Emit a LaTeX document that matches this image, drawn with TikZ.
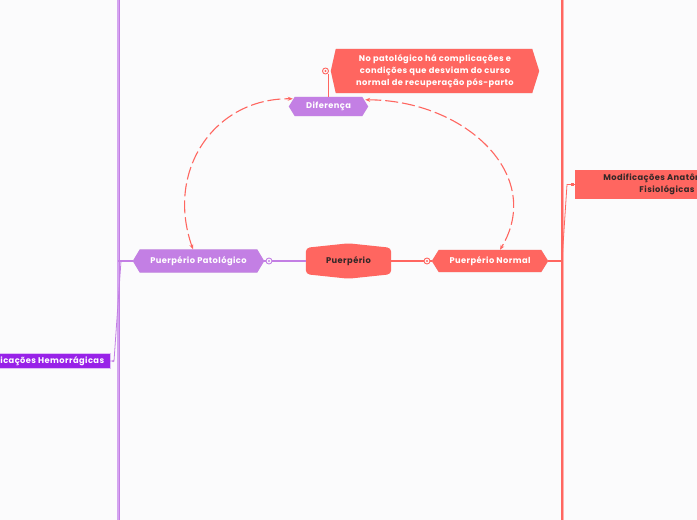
\documentclass[tikz,border=0pt]{standalone}
\usepackage{fontspec}
\setmainfont{Poppins}[LetterSpace=5]
\usetikzlibrary{arrows.meta}
\pgfdeclarelayer{bg}
\pgfdeclarelayer{back}
\pgfsetlayers{back,bg,main}
\definecolor{bgc}{RGB}{251,251,252}
\definecolor{redN}{RGB}{255,102,96}
\definecolor{purpN}{RGB}{195,127,228}
\definecolor{purpD}{RGB}{152,34,232}
\definecolor{purpL}{RGB}{212,165,240}
\definecolor{darkT}{RGB}{52,40,40}
\begin{document}
\begin{tikzpicture}[x=1pt,y=-1pt,
  lbl/.style={inner sep=0pt,font=\bfseries\fontsize{8.3}{12.2}\selectfont,align=center},
  wlbl/.style={lbl,text=white},
  dlbl/.style={lbl,text=darkT},
  ring/.style={circle,draw=#1,fill=bgc,line width=0.9pt,minimum size=6pt,inner sep=0pt},
  purline/.style={purpN,line width=1.4pt},
  redline/.style={redN,line width=1.4pt},
  trunkP/.style={purpL,line width=1.6pt},
  trunkR/.style={redN,line width=1.4pt},
  dashlink/.style={redN,line width=1.1pt,dash pattern=on 13pt off 4pt,{Stealth[length=5pt,width=4pt]}-{Stealth[length=5pt,width=4pt]}},
  shadow/.style={black,opacity=0.10}
]
\useasboundingbox (0,0) rectangle (697,520);
\begin{pgfonlayer}{back}
\fill[bgc] (0,0) rectangle (697,520);
\end{pgfonlayer}
\begin{scope}
\clip (0,0) rectangle (697,520);

% nodes
\node[wlbl,minimum width=131pt,minimum height=23pt] (pp) at (198.5,261) {Puerpério Patológico};
\node[dlbl,minimum width=85pt,minimum height=35pt] (puer) at (348.5,261) {Puerpério};
\node[wlbl,minimum width=116pt,minimum height=22pt] (pn) at (490,261) {Puerpério Normal};
\node[wlbl,minimum width=79pt,minimum height=19pt] (dif) at (328.5,106.5) {Diferença};
\node[wlbl,minimum width=208pt,minimum height=44pt] (nota) at (435,71) {No patológico há complicações e\\condições que desviam do curso\\normal de recuperação pós-parto};
\node[dlbl,minimum width=184pt,minimum height=29pt] (mod) at (667,184.5) {Modificações Anatômicas e\\Fisiológicas};
\node[wlbl,minimum width=146pt,minimum height=15pt] (comp) at (37,361) {Complicações Hemorrágicas};

\node[ring=purpN] (c1) at (269,261) {};
\node[ring=redN] (c2) at (427,261) {};
\node[ring=redN] (c3) at (325.5,71) {};
\fill[purpN] (c1) circle (1.1pt);
\fill[redN] (c2) circle (1.1pt);
\fill[redN] (c3) circle (1.1pt);

\coordinate (tl) at (118,0);
\coordinate (bl) at (118,520);
\coordinate (tr) at (562,0);
\coordinate (br) at (562,520);
\coordinate (jl) at (118,261);
\coordinate (jr) at (562,261);
\coordinate (km) at (567,184.5);
\coordinate (kc) at (114,361);

\begin{pgfonlayer}{bg}
% trunks
\draw[trunkP] (tl) -- (bl);
\draw[purpN,line width=0.6pt] ([xshift=1.5pt]tl) -- ([xshift=1.5pt]bl);
\draw[trunkR] (tr) -- (br);
\draw[redN!50,line width=0.6pt] ([xshift=1.6pt]tr) -- ([xshift=1.6pt]br);
% shadows
\fill[shadow,yshift=-1.5pt] (pp.west) -- ([xshift=7pt]pp.north west) -- ([xshift=-7pt]pp.north east) -- (pp.east) -- ([xshift=-7pt]pp.south east) -- ([xshift=7pt]pp.south west) -- cycle;
\fill[shadow,yshift=-1.5pt] (pn.west) -- ([xshift=7pt]pn.north west) -- ([xshift=-7pt]pn.north east) -- (pn.east) -- ([xshift=-7pt]pn.south east) -- ([xshift=7pt]pn.south west) -- cycle;
\fill[shadow,yshift=-1.5pt] (dif.west) -- ([xshift=6pt]dif.north west) -- ([xshift=-6pt]dif.north east) -- (dif.east) -- ([xshift=-6pt]dif.south east) -- ([xshift=6pt]dif.south west) -- cycle;
\fill[shadow,yshift=-1.5pt] (nota.west) -- ([xshift=5pt]nota.north west) -- ([xshift=-7pt]nota.north east) -- (nota.east) -- ([xshift=-7pt]nota.south east) -- ([xshift=5pt]nota.south west) -- cycle;
% shapes
\fill[purpN] (pp.west) -- ([xshift=7pt]pp.north west) -- ([xshift=-7pt]pp.north east) -- (pp.east) -- ([xshift=-7pt]pp.south east) -- ([xshift=7pt]pp.south west) -- cycle;
\fill[redN] (pn.west) -- ([xshift=7pt]pn.north west) -- ([xshift=-7pt]pn.north east) -- (pn.east) -- ([xshift=-7pt]pn.south east) -- ([xshift=7pt]pn.south west) -- cycle;
\fill[purpN] (dif.west) -- ([xshift=6pt]dif.north west) -- ([xshift=-6pt]dif.north east) -- (dif.east) -- ([xshift=-6pt]dif.south east) -- ([xshift=6pt]dif.south west) -- cycle;
\fill[redN] (nota.west) -- ([xshift=5pt]nota.north west) -- ([xshift=-7pt]nota.north east) -- (nota.east) -- ([xshift=-7pt]nota.south east) -- ([xshift=5pt]nota.south west) -- cycle;
\fill[redN,rounded corners=4pt] ([yshift=-4.5pt]puer.north west) -- (puer.north) -- ([yshift=-4.5pt]puer.north east) -- ([yshift=4.5pt]puer.south east) -- (puer.south) -- ([yshift=4.5pt]puer.south west) -- cycle;
\fill[redN] (mod.north west) rectangle (mod.south east);
\fill[purpD] (comp.north west) rectangle (comp.south east);
\draw[white!70!purpD,line width=0.6pt] (comp.north west) rectangle (comp.south east);
% connectors
\draw[purline] (pp.east) -- (c1);
\draw[purline] (c1) -- (puer.west);
\draw[redline] (puer.east) -- (c2);
\draw[redline] (c2) -- (pn.west);
\draw[redline] (pn.east) -- (jr);
\draw[purline] (pp.west) -- (jl);
\draw[redline] (dif.north) -- (dif.north |- c3.south);
\draw[redN,line width=0.8pt] (jr) -- (km) -- (mod.west);
\draw[purpN,line width=0.8pt] ([xshift=3pt]jl) -- (kc) -- (comp.east);
\end{pgfonlayer}
\fill[redN] ([xshift=-4pt,yshift=-1.5pt]mod.west) rectangle ([xshift=-1pt,yshift=1.5pt]mod.west);
\fill[purpN] ([xshift=3pt]comp.east) circle (1.2pt);

% dashed links
\draw[dashlink] ([xshift=-5.5pt]pp.north) .. controls (165,170) and (215,98) .. ([xshift=4pt,yshift=-2pt]dif.north west);
\draw[dashlink] ([xshift=-3pt,yshift=-3pt]dif.north east) .. controls (465,100) and (545,175) .. ([xshift=10pt]pn.north);
\end{scope}
\end{tikzpicture}
\end{document}
